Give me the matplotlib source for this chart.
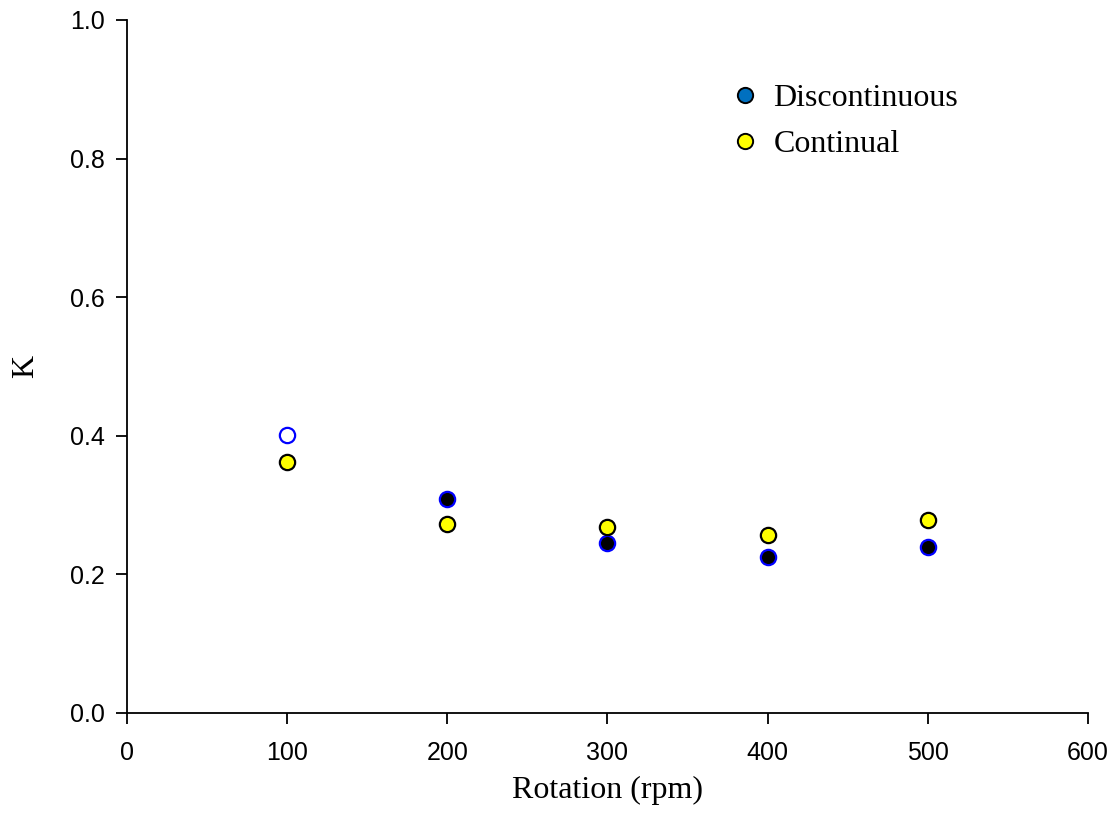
import matplotlib
matplotlib.use("Agg")
import matplotlib.pyplot as plt
from matplotlib.lines import Line2D

rpm = [100, 200, 300, 400, 500]
k_discontinuous = [0.401, 0.309, 0.245, 0.225, 0.240]
k_continual = [0.362, 0.273, 0.268, 0.257, 0.278]

fig = plt.figure(figsize=(11.2, 8.33), dpi=100)
ax = fig.add_axes([0.1134, 0.1441, 0.8580, 0.8319])

# first discontinuous point is drawn hollow
ax.plot(rpm[:1], k_discontinuous[:1], "o", ms=11, mfc="white", mec="blue", mew=1.6, ls="none")
ax.plot(rpm[1:], k_discontinuous[1:], "o", ms=11, mfc="black", mec="blue", mew=1.6, ls="none")
ax.plot(rpm, k_continual, "o", ms=11, mfc="yellow", mec="black", mew=1.6, ls="none")

ax.set_xlim(0, 600)
ax.set_ylim(0, 1.0)
ax.set_xticks(range(0, 601, 100))
ax.set_yticks([0, 0.2, 0.4, 0.6, 0.8, 1.0])
ax.set_yticklabels([f"{v:.1f}" for v in [0, 0.2, 0.4, 0.6, 0.8, 1.0]])
ax.spines["top"].set_visible(False)
ax.spines["right"].set_visible(False)
ax.spines["left"].set_linewidth(1.3)
ax.spines["bottom"].set_linewidth(1.3)
ax.tick_params(direction="out", length=8, width=1.3, labelsize=18)
ax.tick_params(axis="x", pad=12)
ax.tick_params(axis="y", pad=8)
for lab in ax.get_xticklabels() + ax.get_yticklabels():
    lab.set_family("Liberation Sans")

ax.set_xlabel("Rotation (rpm)", family="Liberation Serif", fontsize=23, labelpad=8)
ax.set_ylabel("K", family="Liberation Serif", fontsize=23)
ax.yaxis.set_label_coords(-0.09, 0.5)

handles = [
    Line2D([], [], ls="none", marker="o", ms=11, mfc="#0070c0", mec="black", mew=1.4),
    Line2D([], [], ls="none", marker="o", ms=11, mfc="yellow", mec="black", mew=1.4),
]
ax.legend(handles, ["Discontinuous", "Continual"], loc="upper left",
          bbox_to_anchor=(0.593, 0.949), frameon=False, handletextpad=0.3,
          handlelength=1.2, labelspacing=0.5,
          prop={"family": "Liberation Serif", "size": 23})

fig.savefig("out.png", dpi=100)
